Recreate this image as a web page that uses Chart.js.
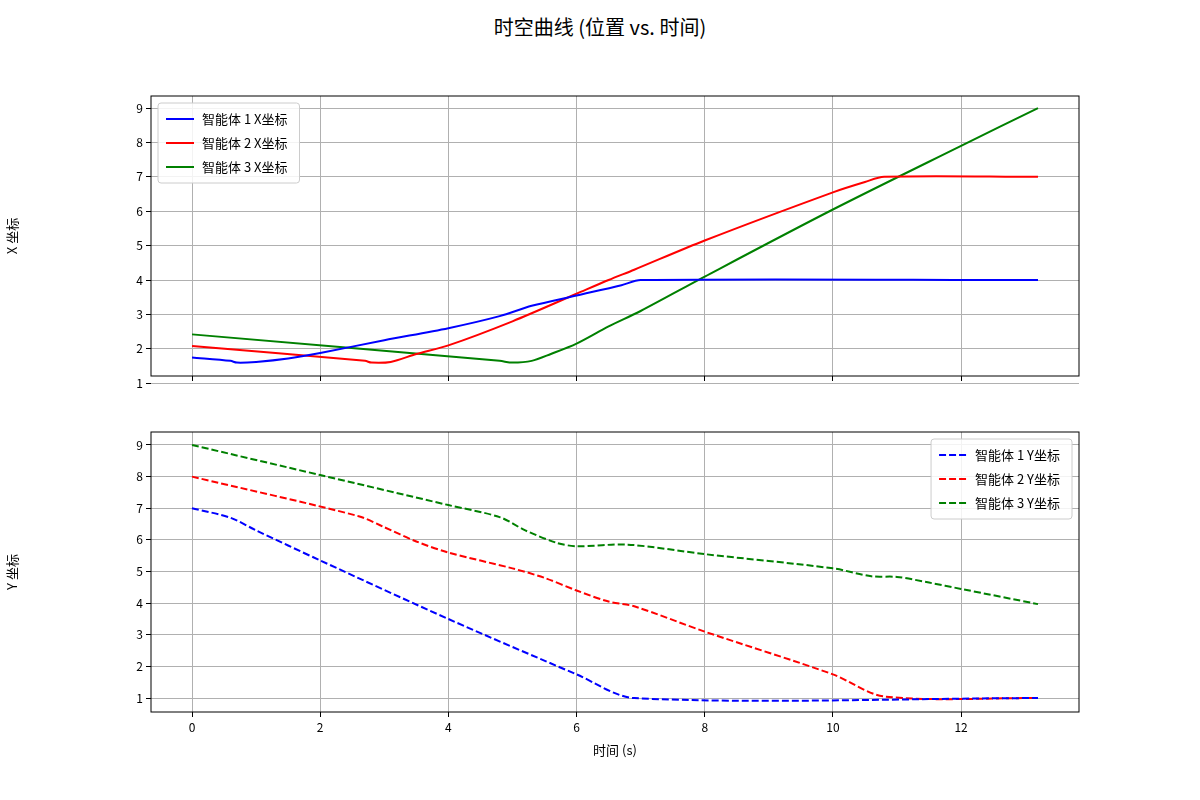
<!DOCTYPE html>
<html lang="zh">
<head>
<meta charset="UTF-8">
<title>时空曲线</title>
<script src="https://cdn.jsdelivr.net/npm/chart.js"></script>
<style>
  body { margin: 0; background: #fff; width: 1200px; height: 800px; position: relative; overflow: hidden; }
  #title { position: absolute; top: 12px; width: 1200px; text-align: center; font: 20px "Noto Sans CJK SC", sans-serif; color: #000; }
  canvas { position: absolute; left: 0; }
</style>
</head>
<body>
<div id="title">时空曲线 (位置 vs. 时间)</div>
<div style="position:absolute;top:40px;left:0;width:1200px;height:360px"><canvas id="topChart"></canvas></div>
<div style="position:absolute;top:400px;left:0;width:1200px;height:360px"><canvas id="bottomChart"></canvas></div>
<script>
// [time, value] pairs
const agent1X = [[0,1.75],[0.6,1.65],[0.7,1.6],[1,1.62],[1.5,1.72],[2,1.88],[3,2.25],[4,2.6],[4.8,2.95],[5.3,3.25],[6,3.55],[6.7,3.85],[7,4.0],[13.2,4.0]];
const agent2X = [[0,2.08],[2.7,1.65],[2.8,1.6],[3.1,1.62],[3.5,1.85],[4,2.1],[5,2.8],[6,3.6],[6.5,4.0],[6.9,4.3],[8,5.15],[10,6.55],[10.5,6.85],[10.8,7.0],[13.2,7.0]];
const agent3X = [[0,2.42],[4.8,1.65],[5,1.6],[5.3,1.65],[5.6,1.85],[6,2.15],[6.5,2.65],[7,3.1],[8,4.1],[10,6.05],[12,7.9],[13.2,9.0]];
const agent1Y = [[0,7],[0.6,6.7],[1,6.3],[2,5.35],[4,3.5],[6,1.75],[6.9,1.0],[13.2,1.0]];
const agent2Y = [[0,8],[2.6,6.75],[3,6.4],[3.5,5.95],[4,5.6],[5,5.1],[5.5,4.8],[6,4.4],[6.5,4.05],[6.9,3.9],[8,3.1],[10,1.75],[10.8,1.05],[13.2,1.0]];
const agent3Y = [[0,9],[2,8.05],[4,7.1],[4.8,6.72],[5.2,6.3],[5.7,5.9],[6,5.8],[6.8,5.85],[8,5.55],[10,5.1],[10.6,4.85],[11,4.83],[11.5,4.65],[12,4.45],[13.2,3.97]];
const xTicks = [0, 2, 4, 6, 8, 10, 12];
const yTicks = [1, 2, 3, 4, 5, 6, 7, 8, 9];
const colors = ['blue', 'red', 'green'];
const FONT = '"Noto Sans CJK SC", sans-serif';

const pts = arr => arr.map(p => ({ x: p[0], y: p[1] }));

// frame + in-plot legend
const framePlugin = {
  id: 'frame',
  afterDraw(chart, args, opts) {
    const { ctx, chartArea: a } = chart;
    ctx.save();
    ctx.strokeStyle = '#000'; ctx.lineWidth = 1;
    ctx.strokeRect(a.left, a.top, a.right - a.left, a.bottom - a.top);
    const ds = chart.data.datasets;
    ctx.font = '13px ' + FONT;
    const w = Math.max(...ds.map(d => ctx.measureText(d.label).width)) + 56;
    const h = ds.length * 24 + 8;
    const x = opts.right ? a.right - 7 - w : a.left + 7;
    const y = a.top + 7;
    ctx.fillStyle = 'rgba(255,255,255,0.85)';
    ctx.strokeStyle = '#ccc';
    ctx.beginPath(); ctx.roundRect(x, y, w, h, 3); ctx.fill(); ctx.stroke();
    ds.forEach((d, i) => {
      const ly = y + 16 + i * 24;
      ctx.strokeStyle = d.borderColor; ctx.lineWidth = 2;
      ctx.setLineDash(d.borderDash || []);
      ctx.beginPath(); ctx.moveTo(x + 8, ly); ctx.lineTo(x + 36, ly); ctx.stroke();
      ctx.setLineDash([]);
      ctx.fillStyle = '#000'; ctx.textBaseline = 'middle';
      ctx.fillText(d.label, x + 44, ly);
    });
    ctx.restore();
  }
};

function makeChart(id, series, labels, dashed, yTitle, showX, legendRight, padTop, xHeight, yMin, yMax) {
  return new Chart(document.getElementById(id), {
    type: 'line',
    data: {
      datasets: series.map((s, i) => ({
        label: labels[i], data: pts(s), borderColor: colors[i], borderWidth: 2,
        borderDash: dashed ? [7, 3] : [], pointRadius: 0, tension: 0.3, fill: false
      }))
    },
    options: {
      responsive: true, maintainAspectRatio: false, animation: false,
      layout: { padding: { top: padTop, right: 121, left: 0, bottom: 0 } },
      plugins: { legend: { display: false }, tooltip: { enabled: false }, frame: { right: legendRight } },
      scales: {
        x: {
          type: 'linear', min: -0.64, max: 13.84,
          afterBuildTicks: ax => { ax.ticks = xTicks.map(v => ({ value: v })); },
          afterFit: ax => { ax.height = xHeight; },
          grid: { color: '#b0b0b0', tickColor: '#000', tickLength: 5 },
          border: { display: false },
          ticks: { display: showX, color: '#000', font: { size: 12, family: FONT }, maxRotation: 0 },
          title: { display: showX, text: '时间 (s)', color: '#000', font: { size: 13, family: FONT }, padding: 2 }
        },
        y: {
          min: yMin, max: yMax,
          afterBuildTicks: ax => { ax.ticks = yTicks.map(v => ({ value: v })); },
          afterFit: ax => { ax.width = 151; },
          grid: { color: '#b0b0b0', tickColor: '#000', tickLength: 5 },
          border: { display: false },
          ticks: { color: '#000', font: { size: 12, family: FONT } },
          title: { display: true, text: yTitle, color: '#000', font: { size: 13, family: FONT }, padding: 4 }
        }
      }
    },
    plugins: [framePlugin]
  });
}

makeChart('topChart', [agent1X, agent2X, agent3X], ['智能体 1 X坐标', '智能体 2 X坐标', '智能体 3 X坐标'],
  false, 'X 坐标', false, false, 56, 24, 1.21, 9.35);
makeChart('bottomChart', [agent1Y, agent2Y, agent3Y], ['智能体 1 Y坐标', '智能体 2 Y坐标', '智能体 3 Y坐标'],
  true, 'Y 坐标', true, true, 32, 48, 0.56, 9.41);
</script>
</body>
</html>
